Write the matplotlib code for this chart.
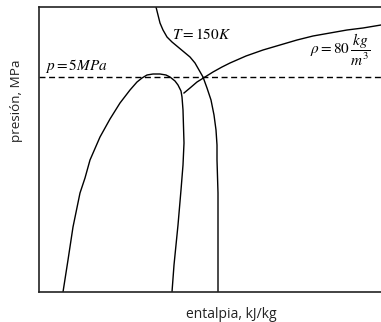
import numpy as np
import matplotlib.pyplot as plt

plt.rcParams['mathtext.fontset'] = 'stix'

# curva de saturacion (domo), entalpia vs presion en unidades arbitrarias
domo_h = [24, 29, 34, 41, 46, 51, 61, 71, 81, 91, 98, 103, 108, 114, 121, 127, 131, 136, 139, 142, 143, 144, 145, 144, 142, 139, 135, 133]
domo_p = [0, 32, 65, 99, 114, 132, 155, 173, 189, 202, 210, 214, 217, 218, 218, 217, 215, 211, 207, 201, 195, 182, 149, 127, 102, 67, 27, 0]

# isoterma T = 150 K
iso_T_h = [117, 119, 121, 124, 128, 133, 139, 145, 151, 156, 160, 164, 168, 172, 175, 177, 178, 178, 179, 179]
iso_T_p = [285, 277, 269, 262, 255, 250, 245, 240, 235, 229, 222, 215, 204, 192, 177, 162, 147, 132, 99, 0]

# isocora rho = 80 kg/m3
iso_rho_h = [145, 151, 158, 166, 174, 183, 191, 207, 224, 241, 258, 274, 291, 308, 324, 342]
iso_rho_p = [199, 204, 210, 215, 220, 225, 229, 236, 242, 247, 252, 256, 259, 262, 264, 267]

p_5MPa = 215

fig = plt.figure(figsize=(3.81, 3.22), dpi=100)
ax = fig.add_axes([39 / 381, 30 / 322, 342 / 381, 285 / 322])
ax.set_xlim(0, 342)
ax.set_ylim(0, 285)

ax.plot(domo_h, domo_p, color='black', lw=1.0)
ax.plot(iso_T_h, iso_T_p, color='black', lw=1.0)
ax.plot(iso_rho_h, iso_rho_p, color='black', lw=1.0)
ax.axhline(p_5MPa, color='black', lw=1.0, dashes=(4.3, 2.6))

ax.text(6, 222, r'$p = 5MPa$', fontsize=11, color='black')
ax.text(133, 253, r'$T = 150K$', fontsize=11, color='black')
ax.text(271, 242, r'$\rho = 80\,\dfrac{kg}{m^3}$', fontsize=11, color='black',
        va='center')

for lado in ['left', 'bottom', 'top']:
    ax.spines[lado].set_linewidth(1.2)
    ax.spines[lado].set_color('#222222')
ax.spines['right'].set_visible(False)
ax.set_xticks([])
ax.set_yticks([])

fig.text(17 / 381, 1 - 101 / 322, 'presión, MPa', rotation=90, ha='center', va='center',
         fontsize=9.7, family='Open Sans', color='#222222')
fig.text(231 / 381, 1 - 314 / 322, 'entalpia, kJ/kg', ha='center', va='center',
         fontsize=10, family='Open Sans', color='#222222')

fig.savefig('out.png', dpi=100)
